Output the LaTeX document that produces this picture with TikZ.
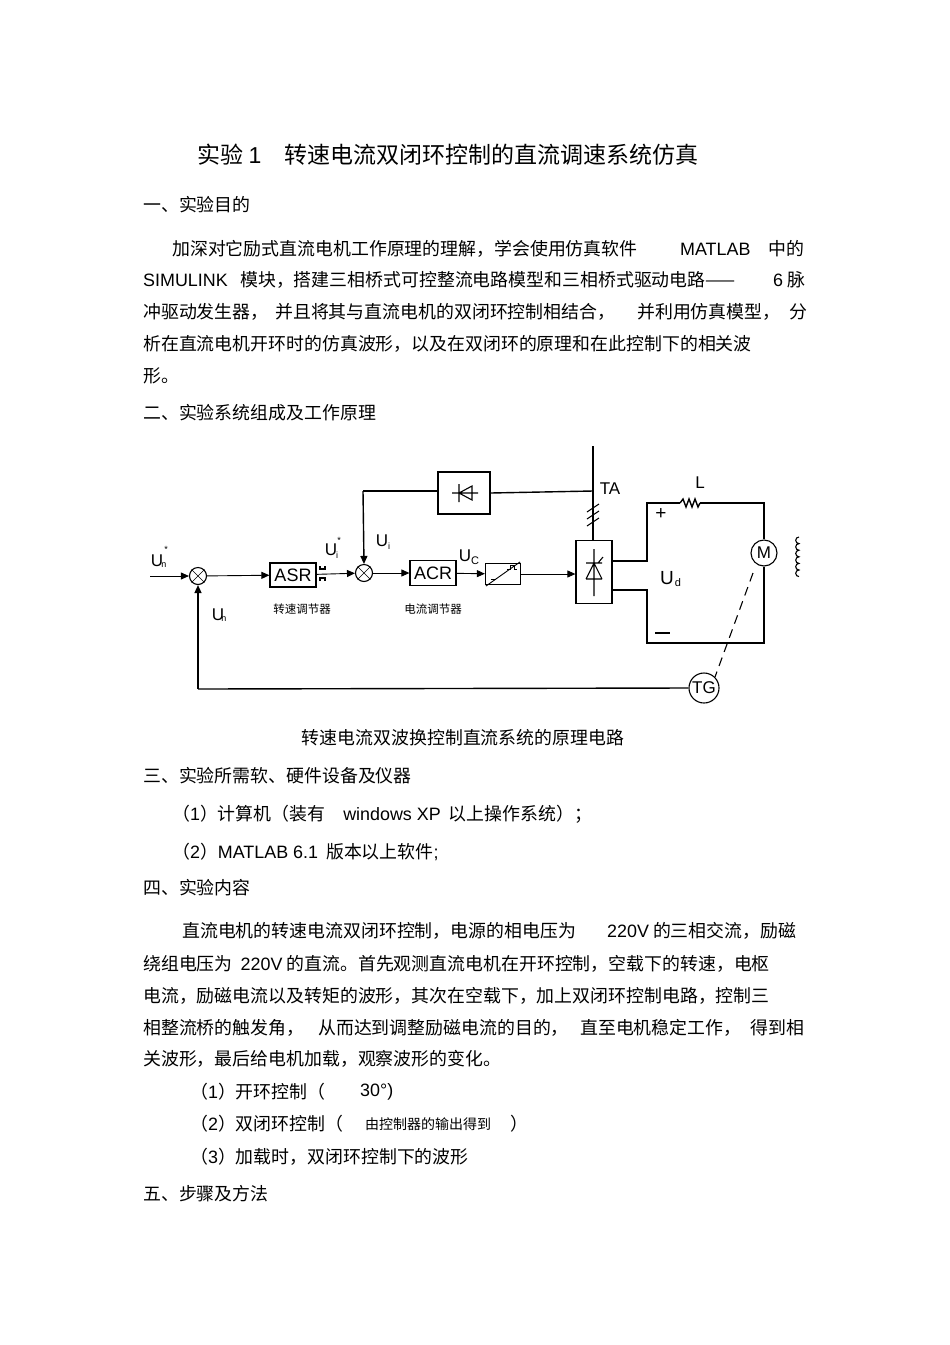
\documentclass[tikz,border=0pt]{standalone}
\usepackage{fontspec}
\setmainfont{Noto Sans CJK SC}
\newfontfamily\lat{Liberation Sans}
\usetikzlibrary{arrows.meta}
\begin{document}
\begin{tikzpicture}[x=1pt,y=-1pt,
  tx/.style={anchor=west,inner sep=0pt,font=\fontsize{17.9}{19}\selectfont},
  lb/.style={inner sep=0pt,font=\lat\fontsize{17}{18}\selectfont},
  sm/.style={inner sep=0pt,font=\lat\fontsize{9}{10}\selectfont},
  blk/.style={draw,line width=1.2pt,inner sep=0pt},
  wire/.style={line width=1.4pt},
  sig/.style={line width=0.9pt,-{Triangle[length=8pt,width=7pt]}},
  sumc/.style={draw,circle,line width=1.1pt,minimum size=17pt,inner sep=0pt}]
\useasboundingbox (0,0) rectangle (950,1345);
% title
\node[inner sep=0pt,font=\fontsize{23}{25}\selectfont] (title) at (448,155) {实验 {\lat 1}\quad 转速电流双闭环控制的直流调速系统仿真};
\node[tx] (h1) at (143,205) {一、实验目的};
\node[tx] (p1a) at (172,249) {加深对它励式直流电机工作原理的理解，学会使用仿真软件};
\node[tx] (p1b) at (680,249) {\lat MATLAB};
\node[tx] (p1c) at (768,249) {中的};
\node[tx] (p2a) at (143,280) {\lat SIMULINK};
\node[tx] (p2b) at (240,280) {模块，搭建三相桥式可控整流电路模型和三相桥式驱动电路——};
\node[tx] (p2c) at (773,280) {{\lat 6} 脉};
\node[tx] (p3a) at (143,312) {冲驱动发生器，};
\node[tx] (p3b) at (275,312) {并且将其与直流电机的双闭环控制相结合，};
\node[tx] (p3c) at (637,312) {并利用仿真模型，};
\node[tx] (p3d) at (789,312) {分};
\node[tx] (p4) at (143,344) {析在直流电机开环时的仿真波形，以及在双闭环的原理和在此控制下的相关波};
\node[tx] (p5) at (143,376) {形。};
\node[tx] (h2) at (143,413) {二、实验系统组成及工作原理};
% ---------- diagram ----------
\node[sumc] (s1) at (198,576) {};
\draw (s1.north west)--(s1.south east) (s1.north east)--(s1.south west);
\node[sumc] (s2) at (364,573) {};
\draw (s2.north west)--(s2.south east) (s2.north east)--(s2.south west);
\node[blk,minimum width=46pt,minimum height=24pt,font=\lat\fontsize{18}{18}\selectfont] (asr) at (293,575) {ASR};
\node[blk,minimum width=46pt,minimum height=25pt,font=\lat\fontsize{18}{18}\selectfont] (acr) at (433,573) {ACR};
\node[blk,minimum width=35pt,minimum height=21pt] (trg) at (503,574) {};
\draw[line width=0.9pt] ([xshift=1pt,yshift=-1pt]trg.south west)--([xshift=-1pt,yshift=1pt]trg.north east);
\draw[line width=0.9pt] ([xshift=6pt,yshift=-5pt]trg.west)--++(5,0);
\draw[line width=0.9pt] ([xshift=-14pt,yshift=5pt]trg.east)--++(3,0)--++(0,-4)--++(4,0)--++(0,4)--++(3,0);
\node[blk,minimum width=36pt,minimum height=63pt] (thy) at (594,572) {};
\draw[line width=1.1pt] (594,549)--(594,596) (586,579)--(602,579) (586,579)--(594,563)--(602,579) (586,563)--(602,563) (598,563)--(603,557);
\node[blk,minimum width=52pt,minimum height=42pt] (dio) at (464,493) {};
\draw[line width=1.1pt] (452,493)--(478,493) (459,484)--(459,502) (459,493)--(472,486)--(472,500)--cycle;
\node[draw,circle,line width=1.1pt,minimum size=26pt,inner sep=0pt,font=\lat\fontsize{17}{18}\selectfont] (M) at (764,553) {M};
\node[draw,circle,line width=1.1pt,minimum size=30pt,inner sep=0pt,font=\lat\fontsize{17}{18}\selectfont] (TG) at (704,688) {TG};
\coordinate (in) at (150,576);
\draw[sig] (in)--(s1);
\draw[sig] (s1)--(asr);
\draw[sig] (asr)--(s2);
\draw[sig] (s2)--(acr);
\draw[sig] (acr)--(trg);
\draw[sig] (trg)--(thy.west |- trg);
% limiter mark
\draw[line width=1.2pt] (320,566)--(320,569)--(325,569)--(325,566) (320,581)--(320,578)--(325,578)--(325,581);
% current feedback
\coordinate (taTop) at (593,446);
\draw[wire] (taTop)--(thy.north -| taTop);
\draw[wire] (dio.east)--(593,491);
\draw[wire] (dio.west |- 491,491)--(363,491);
\draw[wire,-{Triangle[length=8pt,width=7pt]}] (363,491)--(s2.north);
\foreach \yy in {508,515,522} \draw[line width=1pt] (587,\yy+4)--(599,\yy-4);
% speed feedback
\draw[wire] (TG.west)--(198,689);
\draw[wire,-{Triangle[length=8pt,width=7pt]}] (198,689)--(s1.south);
% power circuit
\draw[wire] (thy.east |- 0,561)--(647,561)--(647,503)--(680,503);
\draw[wire] (680,503)--(683,499)--(686,507)--(689,499)--(692,507)--(695,499)--(698,507)--(700,503);
\draw[wire] (700,503)--(764,503)--(M.north);
\draw[wire] (thy.east |- 0,590)--(647,590)--(647,643)--(764,643)--(M.south);
\draw[line width=1.1pt] (799,537) arc (-90:-270:3.3) arc (-90:-270:3.3) arc (-90:-270:3.3) arc (-90:-270:3.3) arc (-90:-270:3.3) arc (-90:-270:3.3);
\draw[line width=1.1pt,dash pattern=on 9pt off 6pt] (753,573)--(TG.north east);
% labels
\node[lb] at (157,561) {U}; \node[sm] at (164,565) {n}; \node[sm] at (166,549) {*};
\node[lb] at (331,550) {U}; \node[sm] at (337,555) {i}; \node[sm] at (339,540) {*};
\node[lb] at (382,541) {U}; \node[sm] at (389,546) {i};
\node[lb] at (218,615) {U}; \node[sm] at (224,619) {n};
\node[lb] at (465,556) {U}; \node[sm,font=\lat\fontsize{11}{12}\selectfont] at (475,561) {C};
\node[inner sep=0pt,font=\fontsize{11.5}{12}\selectfont] (l1) at (302,609) {转速调节器};
\node[inner sep=0pt,font=\fontsize{11.5}{12}\selectfont] (l2) at (433,609) {电流调节器};
\node[lb] at (610,489) {TA};
\node[lb] at (700,483) {L};
\node[lb,font=\lat\fontsize{19}{19}\selectfont] at (661,514) {+};
\draw[line width=1.3pt] (655,633)--(670,633);
\node[lb,font=\lat\fontsize{19}{19}\selectfont] at (667,578) {U}; \node[sm,font=\lat\fontsize{11}{12}\selectfont] at (678,583) {d};
% ---------- rest ----------
\node[inner sep=0pt,font=\fontsize{17.9}{19}\selectfont] (cap) at (463,738) {转速电流双波换控制直流系统的原理电路};
\node[tx] (h3) at (143,776) {三、实验所需软、硬件设备及仪器};
\node[tx] (q1) at (172,814) {（{\lat 1}）计算机（装有\quad{\lat windows XP}\ \ 以上操作系统）；};
\node[tx] (q2) at (172,852) {（{\lat 2}）{\lat MATLAB 6.1} \ 版本以上软件{\lat ;}};
\node[tx] (h4) at (143,888) {四、实验内容};
\node[tx] (r1a) at (182,931) {直流电机的转速电流双闭环控制，电源的相电压为};
\node[tx] (r1b) at (607,931) {{\lat 220V} 的三相交流，励磁};
\node[tx] (r2) at (143,964) {绕组电压为 \ {\lat 220V} 的直流。首先观测直流电机在开环控制，空载下的转速，电枢};
\node[tx] (r3) at (143,996) {电流，励磁电流以及转矩的波形，其次在空载下，加上双闭环控制电路，控制三};
\node[tx] (r4a) at (143,1028) {相整流桥的触发角，};
\node[tx] (r4b) at (318,1028) {从而达到调整励磁电流的目的，};
\node[tx] (r4c) at (580,1028) {直至电机稳定工作，};
\node[tx] (r4d) at (750,1028) {得到相};
\node[tx] (r5) at (143,1059) {关波形，最后给电机加载，观察波形的变化。};
\node[tx] (s1t) at (190,1092) {（{\lat 1}）开环控制（};
\node[tx] (s1u) at (360,1092) {\lat 30°)};
\node[tx] (s2t) at (190,1124) {（{\lat 2}）双闭环控制（};
\node[tx,font=\fontsize{14}{15}\selectfont] (s2u) at (365,1124) {由控制器的输出得到};
\node[tx] (s2v) at (510,1124) {）};
\node[tx] (s3t) at (190,1157) {（{\lat 3}）加载时，双闭环控制下的波形};
\node[tx] (h5) at (143,1194) {五、步骤及方法};
\end{tikzpicture}
\end{document}
